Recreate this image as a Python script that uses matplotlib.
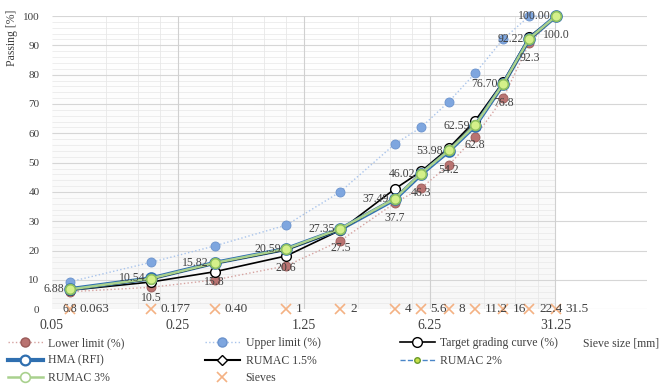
import matplotlib
matplotlib.use('Agg')
import matplotlib.pyplot as plt
import numpy as np
from matplotlib.ticker import FixedLocator, MultipleLocator
from matplotlib.lines import Line2D

plt.rcParams['font.family'] = ['Liberation Serif', 'DejaVu Serif']

# sieve sizes [mm] and their labels
sieves = [0.063, 0.177, 0.40, 1, 2, 4, 5.6, 8, 11.2, 16, 22.4, 31.5]
sieve_labels = ['0.063', '0.177', '0.40', '1', '2', '4', '5.6', '8', '11.2', '16', '22.4', '31.5']

# passing [%]
lower_limit = [6.0, 7.5, 10.0, 14.8, 23.4, 36.2, 41.3, 49.2, 58.9, 71.9, 90.8, 100.0]
upper_limit = [9.4, 16.0, 21.6, 28.7, 40.1, 56.3, 62.0, 70.8, 80.5, 92.1, 100.0, 100.0]
target = [6.5, 9.3, 12.8, 18.2, 27.0, 41.0, 47.0, 55.0, 64.3, 77.5, 93.0, 100.0]
hma = [6.88, 10.54, 15.82, 20.59, 27.35, 37.49, 46.02, 53.98, 62.59, 76.70, 92.22, 100.00]
rumac15 = [6.7, 10.3, 15.6, 20.3, 27.2, 37.8, 46.2, 54.4, 63.0, 76.4, 92.0, 100.0]
rumac2 = [6.9, 10.6, 15.9, 20.7, 27.4, 37.3, 45.9, 53.8, 62.4, 76.6, 92.4, 100.0]
rumac3 = [6.8, 10.5, 15.8, 20.6, 27.5, 37.7, 46.3, 54.2, 62.8, 76.8, 92.3, 100.0]
hma_labels = ['6.88', '10.54', '15.82', '20.59', '27.35', '37.49', '46.02', '53.98', '62.59', '76.70', '92.22', '100.00']
rumac3_labels = ['6.8', '10.5', '15.8', '20.6', '27.5', '37.7', '46.3', '54.2', '62.8', '76.8', '92.3', '100.0']

x_ticks = [0.05, 0.25, 1.25, 6.25, 31.25]
x_minor = [k * 0.05 * 5 ** n for n in range(4) for k in (2, 3, 4)]

TXT = '#404040'

fig = plt.figure(figsize=(6.62, 3.90), dpi=100)
ax = fig.add_axes([52/662, 1 - 309.3/390, (647 - 52)/662, (309.3 - 16)/390])
ax.set_xscale('log')
ax.set_xlim(0.05, 100.8)
ax.set_ylim(0, 100)

# shaded plot area (light grey gradient, darker at bottom)
grad = np.linspace(0, 1, 100).reshape(-1, 1)
ax.imshow(grad, extent=[0.05, 31.25, 0, 100], aspect='auto', cmap='Greys',
          vmin=0, vmax=16, zorder=0, interpolation='bilinear', origin='upper')

# grid: minor lines only inside the shaded area
ax.hlines(np.arange(2, 100, 2), 0.05, 31.25, color='#ebebeb', lw=0.6, zorder=0.5)
ax.vlines(x_minor, 0, 100, color='#e8e8e8', lw=0.6, zorder=0.5)
ax.hlines(np.arange(0, 101, 10), 0.05, 100.8, color='#d6d6d6', lw=0.8, zorder=0.6)
ax.vlines(x_ticks[1:], 0, 100, color='#d0d0d0', lw=0.8, zorder=0.6)

ax.xaxis.set_major_locator(FixedLocator(x_ticks))
ax.set_xticklabels(['0.05', '0.25', '1.25', '6.25', '31.25'])
ax.xaxis.set_minor_locator(FixedLocator([]))
ax.yaxis.set_major_locator(MultipleLocator(10))
ax.tick_params(which='both', length=0)
ax.tick_params(axis='x', labelsize=10, pad=7, colors=TXT)
ax.tick_params(axis='y', labelsize=8, pad=9, colors=TXT)
for s in ax.spines.values():
    s.set_visible(False)

ax.plot(sieves, lower_limit, ':', color='#d6a3a1', lw=1,
        marker='o', ms=6.5, mfc='#b97371', mec='#9a5a58', mew=0.6, zorder=3, clip_on=False)
ax.plot(sieves, upper_limit, ':', color='#a9c4eb', lw=1,
        marker='o', ms=6.5, mfc='#7ea6df', mec='#6a92cc', mew=0.6, zorder=3, clip_on=False)
ax.plot(sieves, target, '-', color='black', lw=1.2,
        marker='o', ms=7, mfc='white', mec='black', mew=1.0, zorder=4, clip_on=False)
ax.plot(sieves, hma, '-', color='#2f6fb0', lw=3,
        marker='o', ms=7.5, mfc='white', mec='#2f6fb0', mew=1.6, zorder=5, clip_on=False)
ax.plot(sieves, rumac15, '-', color='black', lw=1.2,
        marker='D', ms=4.5, mfc='white', mec='black', mew=0.8, zorder=5, clip_on=False)
ax.plot(sieves, rumac2, '--', color='#4a86c8', lw=1,
        marker='o', ms=3.5, mfc='#c8e04a', mec='#6a9a2a', mew=0.5, zorder=6, clip_on=False)
ax.plot(sieves, rumac3, '-', color='#a9d18e', lw=1.8,
        marker='o', ms=7, mfc='#d4f08a', mec='#8fc060', mew=1.2, zorder=7, clip_on=False)
ax.plot(sieves, [0] * len(sieves), 'x', color='#f4b183', ms=7, mew=1.2,
        zorder=3, linestyle='none', clip_on=False)

for xs, ys, lab in zip(sieves, hma, hma_labels):
    ax.annotate(lab, (xs, ys), xytext=(-4, 0), textcoords='offset points',
                ha='right', va='center', fontsize=8.5, color=TXT, zorder=8)
for xs, ys, lab in zip(sieves, rumac3, rumac3_labels):
    ax.annotate(lab, (xs, ys), xytext=(0, -14), textcoords='offset points',
                ha='center', va='center', fontsize=8.5, color=TXT, zorder=8)
for xs, lab in zip(sieves, sieve_labels):
    ax.annotate(lab, (xs, 0), xytext=(7, 0), textcoords='offset points',
                ha='left', va='center', fontsize=9.5, color=TXT, zorder=8)

fig.text(12/662, 1 - 38/390, 'Passing [%]', rotation=90, ha='center', va='center',
         fontsize=8.5, color=TXT)
fig.text(659/662, 1 - 343/390, 'Sieve size [mm]', ha='right', va='center',
         fontsize=8.5, color=TXT)

h_lower = Line2D([], [], ls=':', color='#d6a3a1', lw=1, marker='o', ms=6.5,
                 mfc='#b97371', mec='#9a5a58')
h_upper = Line2D([], [], ls=':', color='#a9c4eb', lw=1, marker='o', ms=6.5,
                 mfc='#7ea6df', mec='#6a92cc')
h_target = Line2D([], [], ls='-', color='black', lw=1.2, marker='o', ms=7,
                  mfc='white', mec='black')
h_hma = Line2D([], [], ls='-', color='#2f6fb0', lw=3, marker='o', ms=7,
               mfc='white', mec='#2f6fb0', mew=1.6)
h_r15 = Line2D([], [], ls='-', color='black', lw=1.5, marker='D', ms=5,
               mfc='white', mec='black')
h_r2 = Line2D([], [], ls='--', color='#4a86c8', lw=1, marker='o', ms=4,
              mfc='#c8e04a', mec='#6a9a2a')
h_r3 = Line2D([], [], ls='-', color='#a9d18e', lw=1.8, marker='o', ms=7,
              mfc='white', mec='#a9d18e', mew=1.2)
h_sieve = Line2D([], [], ls='none', color='#f4b183', marker='x', ms=7, mew=1.2)

cols = [
    ([h_lower, h_hma, h_r3], ['Lower limit (%)', 'HMA (RFI)', 'RUMAC 3%'], 6),
    ([h_upper, h_r15, h_sieve], ['Upper limit (%)', 'RUMAC 1.5%', 'Sieves'], 203),
    ([h_target, h_r2], ['Target grading curve (%)', 'RUMAC 2%'], 398),
]
for handles, labels, xpx in cols:
    leg = fig.legend(handles, labels, loc='upper left',
                     bbox_to_anchor=(xpx/662, 1 - 335/390), frameon=False,
                     fontsize=8.5, handlelength=2.9, handletextpad=0.5,
                     labelspacing=0.45, borderaxespad=0, borderpad=0.2)
    for t in leg.get_texts():
        t.set_color(TXT)

fig.savefig('out.png', dpi=100)
